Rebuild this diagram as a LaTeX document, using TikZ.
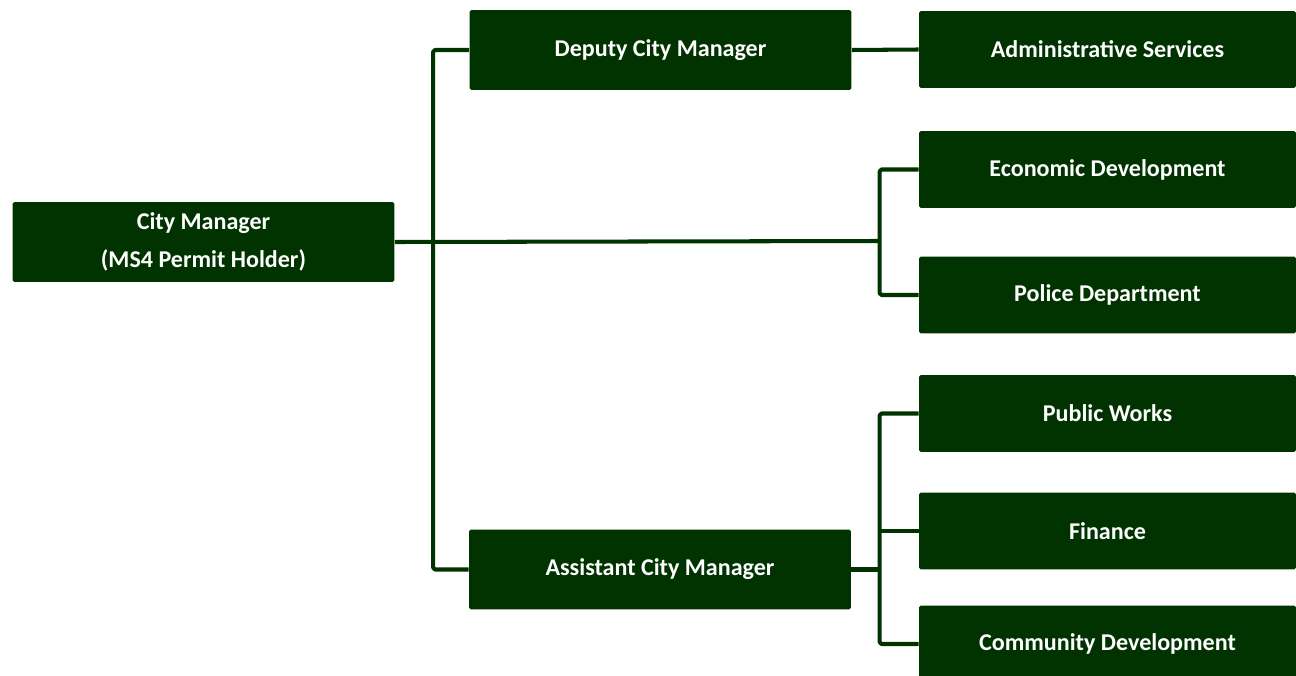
\documentclass[tikz,border=0pt]{standalone}
\usepackage{fontspec}
\setmainfont{Carlito}
\usetikzlibrary{calc}
\usetikzlibrary{positioning}
\definecolor{citygreen}{RGB}{0,51,0}

\begin{document}
\begin{tikzpicture}[
    x=0.02cm, y=-0.02cm,
    bigbox/.style={rectangle, fill=citygreen, text=white, font=\bfseries\fontsize{13.7}{22}\selectfont, align=center, minimum width=7.64cm, minimum height=1.6cm, rounded corners=1pt, inner sep=0pt},
    unitbox/.style={rectangle, fill=citygreen, text=white, font=\bfseries\fontsize{13.7}{15}\selectfont, minimum width=7.54cm, minimum height=1.54cm, rounded corners=1pt, inner sep=0pt},
    link/.style={draw=citygreen, line width=2.3pt, line join=round, rounded corners=1pt}
]
    \useasboundingbox (0, 0) rectangle (1296, 676);
    % Managers
    % - [Left and middle column]
    \node at (203.5, 242) [bigbox](city){City Manager\\(MS4 Permit Holder)};
    \node at (660.5, 50) [bigbox](deputy){Deputy City Manager};
    \node at (660, 569.5) [bigbox](assistant){Assistant City Manager};

    % Departments
    % - [Right column]
    \node at (1107.5, 49.5) [unitbox](admin){Administrative Services};
    \node at (1107.5, 169.5) [unitbox](econ){Economic Development};
    \node at (1107.5, 295) [unitbox](police){Police Department};
    \node at (1107.5, 413.5) [unitbox](works){Public Works};
    \node at (1107.5, 531) [unitbox](finance){Finance};
    \node at (1107.5, 644) [unitbox](community){Community Development};

    % -- Forks in front of the right column
    \coordinate (fork_a) at (880, 241);
    \coordinate (fork_b) at (880, 569.5);

    % - [Connectors]
    \draw [link] (deputy.west) -- ++(-36, 0) |- (assistant.west);
    \draw [link] (deputy.east) -- (admin.west);
    \draw [link] (city.east) -- (fork_a);
    \draw [link] (econ.west) -- ++(-39, 0) |- (police.west);
    \draw [link] (assistant.east) -- (fork_b);
    \draw [link] (works.west) -- ++(-39, 0) |- (community.west);
    \draw [link] (finance.west) -- (finance.west -| fork_b);

\end{tikzpicture}
\end{document}
